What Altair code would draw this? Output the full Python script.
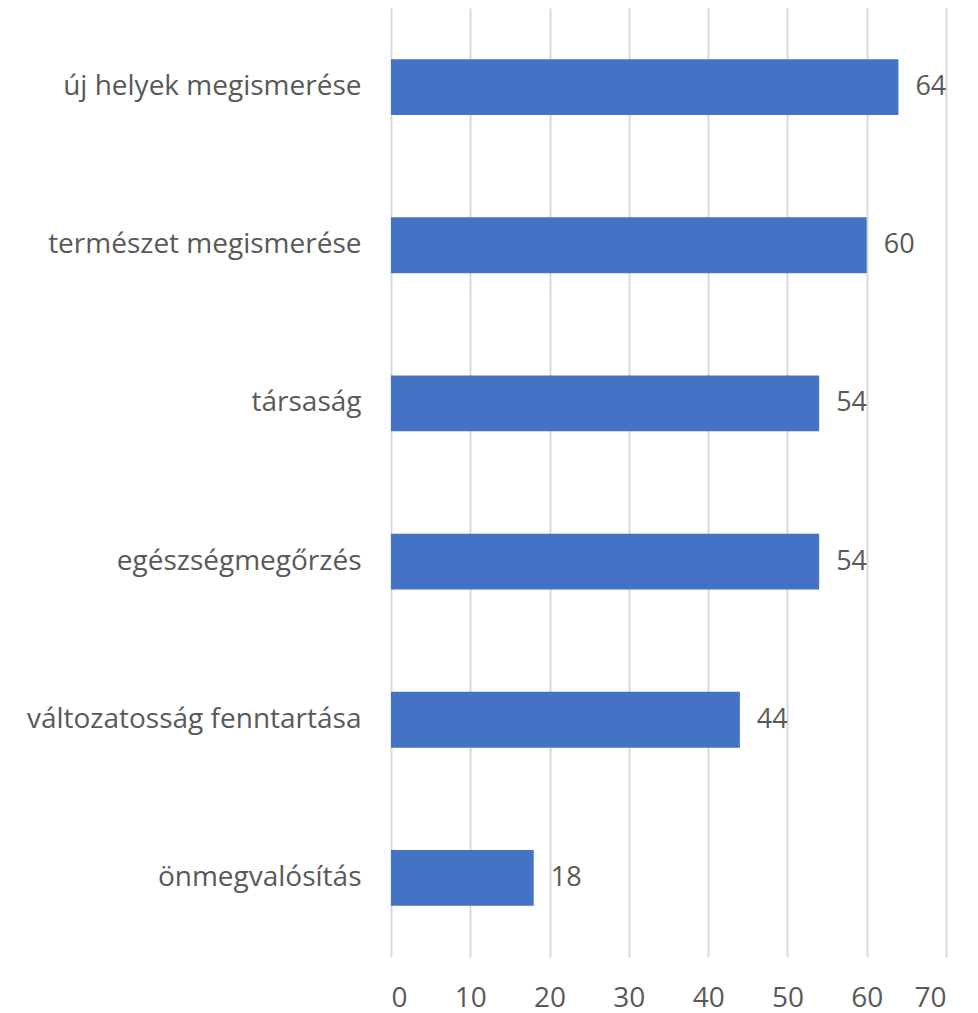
import altair as alt
import pandas as pd

categories = ["új helyek megismerése", "természet megismerése", "társaság",
              "egészségmegőrzés", "változatosság fenntartása", "önmegvalósítás"]
values = [64, 60, 54, 54, 44, 18]
x_ticks = [0, 10, 20, 30, 40, 50, 60, 70]

df = pd.DataFrame({"cat": categories, "val": values})

FONT = "Open Sans"
TXT = "#595959"

y = alt.Y("cat:N", sort=categories, title=None,
          scale=alt.Scale(paddingInner=0.647, paddingOuter=0.3235),
          axis=alt.Axis(labelFont=FONT, labelFontSize=28, labelColor=TXT,
                        labelPadding=30, ticks=False, domain=False, grid=False,
                        labelLimit=400))
x = alt.X("val:Q", title=None,
          scale=alt.Scale(domain=[0, 70], nice=False),
          axis=alt.Axis(values=x_ticks, labelFont=FONT, labelFontSize=28,
                        labelColor=TXT, labelPadding=27, ticks=False,
                        domain=False, grid=True, gridColor="#d9d9d9",
                        gridWidth=2))

bars = alt.Chart(df).mark_bar(color="#4472C4").encode(x=x, y=y)
labels = alt.Chart(df).mark_text(align="left", baseline="middle", dx=17,
                                 font=FONT, fontSize=27, color=TXT).encode(
    x=alt.X("val:Q"), y=alt.Y("cat:N", sort=categories), text="val:Q")

chart = (bars + labels).properties(
    width=555, height=949,
    autosize=alt.AutoSizeParams(type="none"),
    padding={"left": 383, "top": 0, "right": 20, "bottom": 60},
).configure_view(stroke=None)

chart.save("out.html", embed_options={"renderer": "svg", "actions": False})
